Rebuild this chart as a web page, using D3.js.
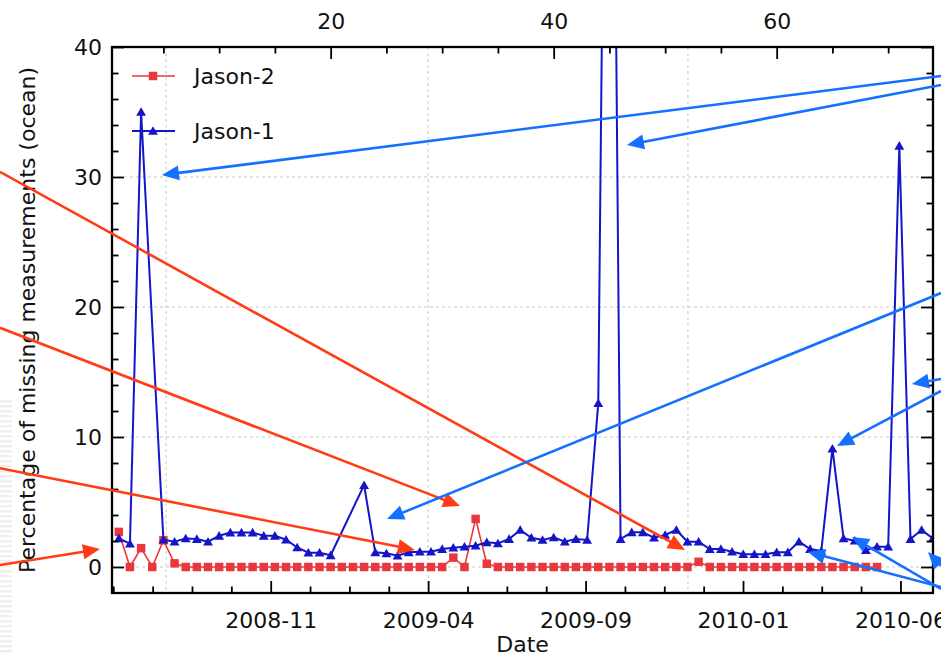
<!DOCTYPE html>
<html>
<head>
<meta charset="utf-8">
<script src="https://cdn.jsdelivr.net/npm/d3@7"></script>
<style>
  html, body { margin: 0; padding: 0; background: #fff; }
  svg { display: block; font-family: "DejaVu Sans", sans-serif; }
</style>
</head>
<body>
<div id="chart"></div>
<script>
// Cycle numbers (top axis) and percentage of missing ocean measurements
const jason2Cycles = [1,2,3,4,5,6,7,8,9,10,11,12,13,14,15,16,17,18,19,20,21,22,23,24,25,26,27,28,29,30,
    31,32,33,34,35,36,37,38,39,40,41,42,43,44,45,46,47,48,49,50,51,52,53,54,55,56,57,58,59,60,
    61,62,63,64,65,66,67,68,69];
const jason2Values = [2.7,0,1.45,0,2.05,0.28,0,0,0,0,0,0,0,0,0,0,0,0,0,0,0,0,0,0,0,0,0,0,0,0,
    0.72,0,3.7,0.25,0,0,0,0,0,0,0,0,0,0,0,0,0,0,0,0,0,0,0.4,0,0,0,0,0,0,0,
    0,0,0,0,0,0,0,0,0];

const jason1Cycles = [1,2,3,5,6,7,8,9,10,11,12,13,14,15,16,17,18,19,20,
    23,24,25,26,27,28,29,30,31,32,33,34,35,36,37,38,39,40,41,42,43,44,45,46,47,48,49,50,
    51,52,53,54,55,56,57,58,59,60,61,62,63,64,65,66,67,68,69,70,71,72,73,74];
const jason1Values = [2.2,1.8,35.0,2.1,1.95,2.2,2.15,1.95,2.4,2.65,2.65,2.65,2.4,2.4,2.1,1.5,1.1,1.1,0.9,
    6.3,1.13,1.05,0.87,1.13,1.18,1.18,1.38,1.48,1.56,1.64,1.9,1.82,2.15,2.85,2.25,2.08,2.28,1.95,2.15,2.08,12.6,100,2.15,2.67,2.67,2.25,2.46,
    2.85,1.95,1.95,1.38,1.38,1.18,0.98,0.98,0.98,1.13,1.13,1.95,1.38,1.23,9.1,2.2,2.02,1.3,1.56,1.56,32.4,2.15,2.85,2.2];

// Axes
const cycleDomain = [0.39, 74.02];
const valueDomain = [-2, 40];
const topMajorTicks = [20, 40, 60];
const topMinorTicks = [5, 10, 15, 25, 30, 35, 45, 50, 55, 65, 70];
const yMajorTicks = [0, 10, 20, 30, 40];
const yMinorTicks = [2, 4, 6, 8, 12, 14, 16, 18, 22, 24, 26, 28, 32, 34, 36, 38];
const dateMajorTicks = ['2008-11-27', '2009-04-16', '2009-09-03', '2010-01-21', '2010-06-10'];
const dateGridLines = ['2008-08-26', '2009-04-16', '2009-12-03'];
const cycleEpoch = '2008-07-05';
const daysPerCycle = 9.9156;

// Annotation arrows, [cycle, value] from tail to tip
const redArrows = [
    [[-9.66, 30.4], [51.78, 1.31]],
    [[-9.66, 18.4], [31.6, 4.69]],
    [[-9.66, 7.6], [27.56, 1.31]],
    [[-9.66, 0.15], [-0.69, 1.38]]
];
const blueArrows = [
    [[74.74, 37.77], [4.87, 30.15]],
    [[74.74, 37.08], [46.57, 32.46]],
    [[74.74, 21.08], [25.05, 3.69]],
    [[74.74, 14.46], [72.13, 14.08]],
    [[74.74, 13.54], [65.41, 9.31]],
    [[74.74, -1.54], [62.81, 1.15]],
    [[74.74, -1.69], [66.75, 2.31]],
    [[74.74, 0.08], [73.57, 1.15]]
];

const seriesJ2 = jason2Cycles.map((c, i) => ({ c, v: jason2Values[i] }));
const seriesJ1 = jason1Cycles.map((c, i) => ({ c, v: jason1Values[i] }));

const W = 941, H = 654;
const margin = { top: 47, right: 8, bottom: 61, left: 112 };
const width = W - margin.left - margin.right;
const height = H - margin.top - margin.bottom;

const RED = '#e8383d', BLUE = '#1414c8';
const RED_ARROW = '#ff3c14', BLUE_ARROW = '#1470ff';
const FONT = 22;

const svg = d3.select('#chart').append('svg')
    .attr('width', W).attr('height', H);

// faint stripes at the left edge (leftover of the source picture)
const defs = svg.append('defs');
const pat = defs.append('pattern').attr('id', 'stripes')
    .attr('width', 16).attr('height', 5).attr('patternUnits', 'userSpaceOnUse');
pat.append('rect').attr('width', 16).attr('height', 2.5).attr('fill', '#e4e4e4');
svg.append('rect').attr('x', 0).attr('y', 400).attr('width', 12).attr('height', 254)
    .attr('fill', 'url(#stripes)').attr('opacity', 0.6);

defs.append('clipPath').attr('id', 'plotClip')
    .append('rect').attr('width', width).attr('height', height);

const g = svg.append('g').attr('transform', `translate(${margin.left},${margin.top})`);

// Scales
const x = d3.scaleLinear().domain(cycleDomain).range([0, width]);
const y = d3.scaleLinear().domain(valueDomain).range([height, 0]);
const epoch = new Date(cycleEpoch);
const cycleToDate = c => new Date(epoch.getTime() + c * daysPerCycle * 864e5);
const xDate = d3.scaleUtc().domain(cycleDomain.map(cycleToDate)).range([0, width]);

const majorDates = dateMajorTicks.map(d => new Date(d));
const step = 35 * 864e5;
const minorDates = d3.range(-4, 22).map(k => new Date(majorDates[0].getTime() + k * step))
    .filter(d => xDate(d) > 1 && xDate(d) < width - 1 && !majorDates.some(m => +m === +d));

// Grid
const grid = g.append('g').attr('stroke', '#c8c8c8').attr('stroke-width', 1)
    .attr('stroke-dasharray', '3,3');
grid.selectAll('.hg').data(yMajorTicks.filter(v => v < 40)).enter().append('line')
    .attr('x1', 0).attr('x2', width).attr('y1', d => y(d)).attr('y2', d => y(d));
grid.selectAll('.vg').data(dateGridLines.map(d => new Date(d))).enter().append('line')
    .attr('y1', 0).attr('y2', height).attr('x1', d => xDate(d)).attr('x2', d => xDate(d));

// Series
const plot = g.append('g').attr('clip-path', 'url(#plotClip)');
const line = d3.line().x(d => x(d.c)).y(d => y(d.v));

plot.append('path').datum(seriesJ2).attr('d', line)
    .attr('fill', 'none').attr('stroke', RED).attr('stroke-width', 1.6);
plot.selectAll('.sq').data(seriesJ2).enter().append('path')
    .attr('transform', d => `translate(${x(d.c)},${y(d.v)})`)
    .attr('d', d3.symbol(d3.symbolSquare, 72)).attr('fill', RED);

plot.append('path').datum(seriesJ1).attr('d', line)
    .attr('fill', 'none').attr('stroke', BLUE).attr('stroke-width', 2);
plot.selectAll('.tri').data(seriesJ1).enter().append('path')
    .attr('transform', d => `translate(${x(d.c)},${y(d.v) + 1})`)
    .attr('d', d3.symbol(d3.symbolTriangle, 42)).attr('fill', BLUE);

// Axes
function styleAxis(sel) {
    sel.select('.domain').remove();
    sel.selectAll('.tick line').attr('stroke', '#000').attr('stroke-width', 1.8);
    sel.selectAll('.tick text').attr('fill', '#111').style('font-size', FONT + 'px')
        .style('font-family', '"DejaVu Sans", sans-serif');
}

g.append('g').call(d3.axisLeft(y).tickValues(yMajorTicks).tickSize(-12).tickPadding(10)).call(styleAxis);
g.append('g').call(d3.axisLeft(y).tickValues(yMinorTicks).tickSize(-6.5).tickFormat('')).call(styleAxis);
g.append('g').attr('transform', `translate(${width},0)`)
    .call(d3.axisRight(y).tickValues(yMajorTicks).tickSize(-12).tickFormat('')).call(styleAxis);
g.append('g').attr('transform', `translate(${width},0)`)
    .call(d3.axisRight(y).tickValues(yMinorTicks).tickSize(-6.5).tickFormat('')).call(styleAxis);

g.append('g').call(d3.axisTop(x).tickValues(topMajorTicks).tickSize(-12).tickPadding(18)).call(styleAxis);
g.append('g').call(d3.axisTop(x).tickValues(topMinorTicks).tickSize(-6.5).tickFormat('')).call(styleAxis);

g.append('g').attr('transform', `translate(0,${height})`)
    .call(d3.axisBottom(xDate).tickValues(majorDates).tickSize(-12).tickPadding(19)
        .tickFormat(d3.utcFormat('%Y-%m'))).call(styleAxis);
g.append('g').attr('transform', `translate(0,${height})`)
    .call(d3.axisBottom(xDate).tickValues(minorDates).tickSize(-6.5).tickFormat('')).call(styleAxis);

// Frame
g.append('rect').attr('width', width).attr('height', height)
    .attr('fill', 'none').attr('stroke', '#000').attr('stroke-width', 2.3);

// Labels
g.append('text').attr('x', width / 2).attr('y', height + 59)
    .attr('text-anchor', 'middle').style('font-size', FONT + 'px').attr('fill', '#111').text('Date');
g.append('text').attr('transform', 'rotate(-90)')
    .attr('x', -height / 2).attr('y', -77)
    .attr('text-anchor', 'middle').style('font-size', FONT + 'px').attr('fill', '#111')
    .text('Percentage of missing measurements (ocean)');

// Legend
const legendItems = [
    { name: 'Jason-2', color: RED, symbol: d3.symbolSquare, size: 72, width: 1.6 },
    { name: 'Jason-1', color: BLUE, symbol: d3.symbolTriangle, size: 42, width: 2 }
];
const legend = g.append('g').attr('transform', 'translate(20,29)');
legendItems.forEach((it, i) => {
    const row = legend.append('g').attr('transform', `translate(0,${i * 55})`);
    row.append('line').attr('x1', 0).attr('x2', 43).attr('stroke', it.color).attr('stroke-width', it.width);
    row.append('path').attr('transform', `translate(21,${i ? 1 : 0})`)
        .attr('d', d3.symbol(it.symbol, it.size)).attr('fill', it.color);
    row.append('text').attr('x', 62).attr('y', 8).style('font-size', FONT + 'px')
        .attr('fill', '#111').text(it.name);
});

// Annotation arrows
function drawArrow(p0, p1, color) {
    const x0 = x(p0[0]), y0 = y(p0[1]), x1 = x(p1[0]), y1 = y(p1[1]);
    const dx = x1 - x0, dy = y1 - y0, len = Math.hypot(dx, dy);
    const ux = dx / len, uy = dy / len;
    const hl = 17, hw = 7.5;
    const bx = x1 - ux * hl, by = y1 - uy * hl;
    g.append('line').attr('x1', x0).attr('y1', y0).attr('x2', bx + ux * 2).attr('y2', by + uy * 2)
        .attr('stroke', color).attr('stroke-width', 2.6);
    g.append('path')
        .attr('d', `M${x1},${y1}L${bx - uy * hw},${by + ux * hw}L${bx + uy * hw},${by - ux * hw}Z`)
        .attr('fill', color);
}
redArrows.forEach(a => drawArrow(a[0], a[1], RED_ARROW));
blueArrows.forEach(a => drawArrow(a[0], a[1], BLUE_ARROW));
</script>
</body>
</html>
